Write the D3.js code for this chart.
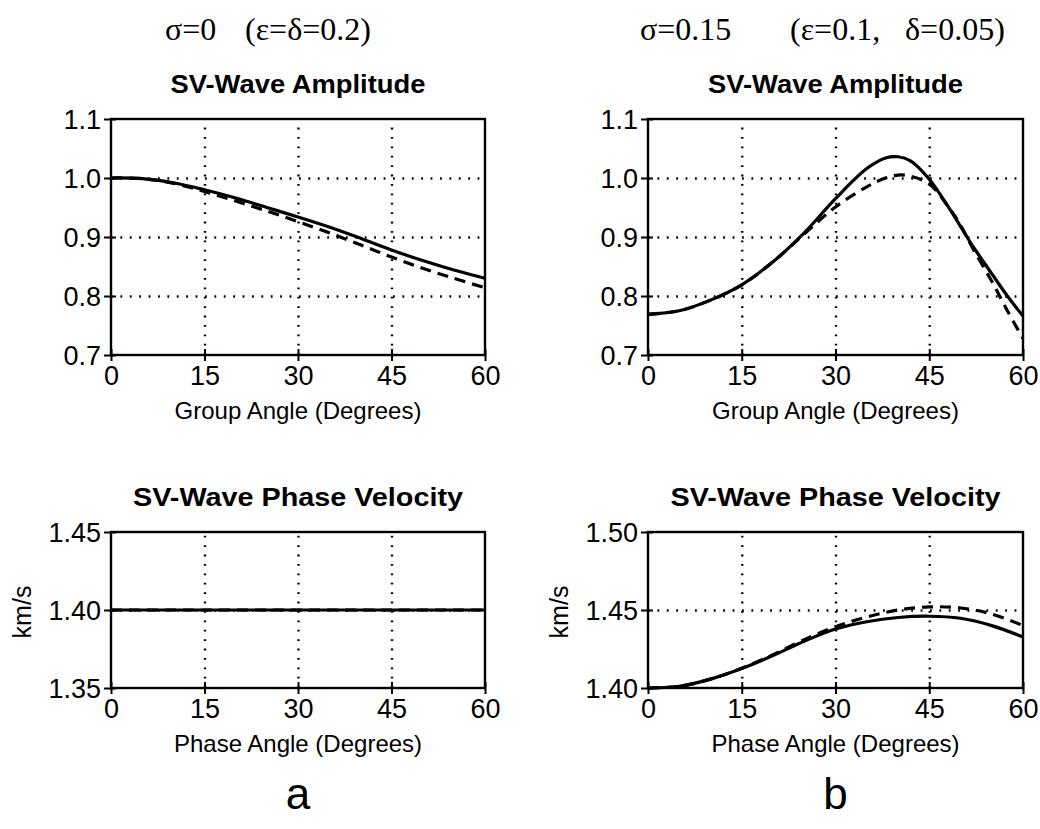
<!DOCTYPE html>
<html><head><meta charset="utf-8">
<script src="https://cdn.jsdelivr.net/npm/d3@7"></script>
<style>
body{margin:0;background:#fff;}
svg{display:block;}
</style></head>
<body>
<svg id="c" width="1040" height="829"></svg>
<script>
// ---- data ----
const xTicks = [0, 15, 30, 45, 60];
const ampTicks = [0.7, 0.8, 0.9, 1.0, 1.1];
const velTicksA = [1.35, 1.40, 1.45];
const velTicksB = [1.40, 1.45, 1.50];

const angleA = [0, 5, 10, 15, 20, 25, 30, 35, 40, 45, 50, 55, 60];
const ampA_exact = [1.000, 0.999, 0.992, 0.980, 0.966, 0.950, 0.934, 0.917, 0.898, 0.878, 0.860, 0.844, 0.830];
const ampA_approx = [1.000, 0.999, 0.991, 0.977, 0.961, 0.944, 0.926, 0.907, 0.887, 0.866, 0.847, 0.830, 0.814];

const angleB = [0, 5, 10, 15, 20, 25, 30, 35, 38, 40, 42, 45, 48, 50, 52, 55, 57.5, 60];
const ampB_exact = [0.769, 0.775, 0.793, 0.819, 0.858, 0.907, 0.965, 1.016, 1.034, 1.036, 1.029, 0.998, 0.952, 0.918, 0.884, 0.838, 0.800, 0.766];
const ampB_approx = [0.769, 0.775, 0.793, 0.819, 0.858, 0.905, 0.951, 0.985, 1.000, 1.005, 1.003, 0.990, 0.952, 0.920, 0.880, 0.825, 0.775, 0.728];

const phaseA = [0, 15, 30, 45, 60];
const velA_exact = [1.40, 1.40, 1.40, 1.40, 1.40];
const velA_approx = [1.40, 1.40, 1.40, 1.40, 1.40];

const phaseB = [0, 5, 10, 15, 20, 25, 30, 35, 40, 45, 50, 55, 60];
const velB_exact = [1.4000, 1.4011, 1.4057, 1.4125, 1.4208, 1.4300, 1.4378, 1.4425, 1.4452, 1.4460, 1.4447, 1.4400, 1.4327];
const velB_approx = [1.4000, 1.4011, 1.4057, 1.4127, 1.4213, 1.4310, 1.4393, 1.4455, 1.4500, 1.4520, 1.4513, 1.4474, 1.4400];

const titleParts = [["σ=0", "(ε=δ=0.2)"], ["σ=0.15", "(ε=0.1,", "δ=0.05)"]];
const panelLabels = ["a", "b"];

// ---- drawing ----
const svg = d3.select("#c");
const cols = [{x0:111, x1:485}, {x0:648, x1:1023}];
const rows = [{y0:119, y1:355}, {y0:532, y1:688}];
const SANS = "'Liberation Sans', Arial, Helvetica, sans-serif";
const SERIF = "'Liberation Serif', 'Times New Roman', serif";

function panel(col, row, yDomain, yTicks, yFmt, title, xTitle, series, xs, yLabel) {
  const c = cols[col], r = rows[row];
  const x = d3.scaleLinear().domain([0, 60]).range([c.x0, c.x1]);
  const y = d3.scaleLinear().domain(yDomain).range([r.y1, r.y0]);
  const g = svg.append("g");
  const h = r.y1 - r.y0, w = c.x1 - c.x0;

  // grid
  const inner = xTicks.slice(1, -1);
  g.append("g").attr("transform", `translate(0,${r.y1})`)
    .call(d3.axisBottom(x).tickValues(inner).tickSize(-h).tickFormat(""))
    .call(s => s.select(".domain").remove())
    .call(s => s.selectAll("line").attr("stroke", "#000").attr("stroke-width", 2.4)
      .attr("stroke-dasharray", "1.8,7.6").attr("stroke-linecap", "butt"));
  g.append("g").attr("transform", `translate(${c.x0},0)`)
    .call(d3.axisLeft(y).tickValues(yTicks.slice(1, -1)).tickSize(-w).tickFormat(""))
    .call(s => s.select(".domain").remove())
    .call(s => s.selectAll("line").attr("stroke", "#000").attr("stroke-width", 2.4)
      .attr("stroke-dasharray", "1.8,7.6"));

  // frame
  g.append("rect").attr("x", c.x0).attr("y", r.y0).attr("width", w).attr("height", h)
    .attr("fill", "none").attr("stroke", "#000").attr("stroke-width", 2.4);

  // axes with crossing ticks
  const xa = g.append("g").attr("transform", `translate(0,${r.y1})`)
    .call(d3.axisBottom(x).tickValues(xTicks).tickSizeInner(6).tickSizeOuter(0).tickPadding(5).tickFormat(d3.format("d")));
  xa.select(".domain").remove();
  xa.selectAll("line").attr("stroke-width", 2).attr("y1", -6);
  xa.selectAll("text").attr("font-family", SANS).attr("font-size", 27).attr("fill", "#000");

  const ya = g.append("g").attr("transform", `translate(${c.x0},0)`)
    .call(d3.axisLeft(y).tickValues(yTicks).tickSizeInner(7).tickSizeOuter(0).tickPadding(3).tickFormat(d3.format(yFmt)));
  ya.select(".domain").remove();
  ya.selectAll("line").attr("stroke-width", 2).attr("x2", 5).attr("x1", -7);
  ya.selectAll("text").attr("font-family", SANS).attr("font-size", 27).attr("fill", "#000").attr("dy", "0.36em");

  // series
  const line = d3.line().x((d, i) => x(xs[i])).y(d => y(d)).curve(d3.curveCatmullRom.alpha(0.5));
  g.append("path").datum(series[1]).attr("d", line).attr("fill", "none")
    .attr("stroke", "#000").attr("stroke-width", 3.2).attr("stroke-dasharray", "11,7");
  g.append("path").datum(series[0]).attr("d", line).attr("fill", "none")
    .attr("stroke", "#000").attr("stroke-width", 3.2);

  // titles
  g.append("text").attr("x", (c.x0 + c.x1) / 2).attr("y", r.y0 - 26).attr("text-anchor", "middle")
    .attr("font-family", SANS).attr("font-weight", "bold").attr("font-size", 25)
    .attr("textLength", title.length * 15).attr("lengthAdjust", "spacingAndGlyphs").text(title);
  g.append("text").attr("x", (c.x0 + c.x1) / 2).attr("y", r.y1 + 64).attr("text-anchor", "middle")
    .attr("font-family", SANS).attr("font-size", 24).text(xTitle);
  if (yLabel) {
    const cx = c.x0 - 80, cy = (r.y0 + r.y1) / 2 + 2;
    g.append("text").attr("transform", `translate(${cx},${cy}) rotate(-90)`).attr("text-anchor", "middle")
      .attr("font-family", SANS).attr("font-size", 25).text(yLabel);
  }
}

panel(0, 0, [0.7, 1.1], ampTicks, ".1f", "SV-Wave Amplitude", "Group Angle (Degrees)", [ampA_exact, ampA_approx], angleA, null);
panel(1, 0, [0.7, 1.1], ampTicks, ".1f", "SV-Wave Amplitude", "Group Angle (Degrees)", [ampB_exact, ampB_approx], angleB, null);
panel(0, 1, [1.35, 1.45], velTicksA, ".2f", "SV-Wave Phase Velocity", "Phase Angle (Degrees)", [velA_exact, velA_approx], phaseA, "km/s");
panel(1, 1, [1.40, 1.50], velTicksB, ".2f", "SV-Wave Phase Velocity", "Phase Angle (Degrees)", [velB_exact, velB_approx], phaseB, "km/s");

// top titles (parts placed individually)
const partX = [[165, 245], [640, 790, 905]];
titleParts.forEach((parts, i) => {
  parts.forEach((p, j) => {
    svg.append("text").attr("x", partX[i][j]).attr("y", 40)
      .attr("font-family", SERIF).attr("font-size", 32).text(p);
  });
  const c = cols[i];
  svg.append("text").attr("x", (c.x0 + c.x1) / 2).attr("y", 809).attr("text-anchor", "middle")
    .attr("font-family", SANS).attr("font-size", 44).text(panelLabels[i]);
});
</script>
</body></html>
